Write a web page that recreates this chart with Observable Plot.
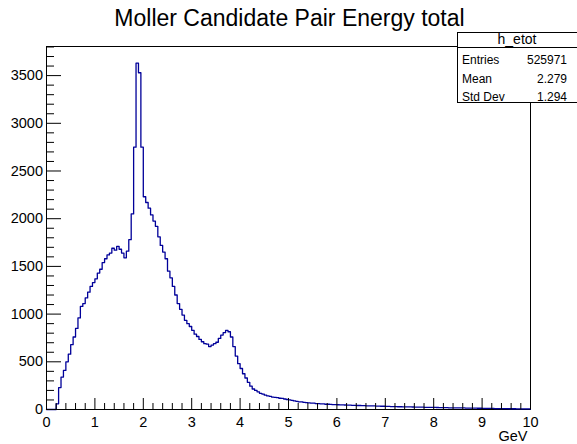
<!DOCTYPE html>
<html><head><meta charset="utf-8">
<script src="https://cdn.jsdelivr.net/npm/d3@7"></script>
<script src="https://cdn.jsdelivr.net/npm/@observablehq/plot@0.6"></script>
<style>html,body{margin:0;padding:0;background:#fff;} svg{display:block}</style>
</head><body><div id="chart"></div>
<script>
const title = "Moller Candidate Pair Energy total";
const xUnit = "GeV";
const histName = "h_etot";
const statLabels = ["Entries", "Mean", "Std Dev"];
const statValues = ["525971", "2.279", "1.294"];
const binWidth = 0.05;
const xMin = 0, xMax = 10;
const yMax = 3805;
// counts per 0.05 GeV bin (10 bins per row = 0.5 GeV)
const counts = [
  0, 0, 0, 0, 60, 230, 340, 410, 500, 580,
  680, 760, 850, 960, 1080, 1110, 1170, 1230, 1290, 1330,
  1370, 1430, 1470, 1540, 1580, 1620, 1640, 1690, 1670, 1710,
  1680, 1640, 1590, 1660, 1780, 2050, 2750, 3630, 3530, 2750,
  2230, 2170, 2110, 2040, 1975, 1920, 1810, 1720, 1650, 1580,
  1450, 1380, 1290, 1200, 1110, 1050, 990, 935, 900, 870,
  830, 790, 765, 735, 710, 690, 685, 660, 675, 690,
  705, 745, 780, 805, 830, 815, 760, 660, 560, 480,
  430, 375, 330, 285, 245, 215, 200, 185, 170, 162,
  150, 142, 138, 130, 128, 124, 118, 116, 110, 105,
  100, 96, 90, 86, 80, 79, 74, 72, 70, 67,
  66, 62, 61, 59, 58, 55, 55, 53, 51, 51,
  50, 48, 48, 47, 45, 45, 44, 44, 42, 42,
  41, 40, 38, 38, 37, 37, 36, 35, 34, 34,
  33, 32, 31, 31, 30, 29, 29, 28, 28, 27,
  27, 26, 25, 25, 25, 24, 23, 23, 22, 22,
  22, 21, 20, 20, 20, 19, 18, 18, 18, 17,
  17, 16, 16, 15, 15, 14, 14, 14, 13, 13,
  12, 12, 12, 11, 11, 10, 10, 10, 9, 9,
  9, 8, 8, 8, 7, 7, 7, 6, 6, 6
];
const xTicks = [0, 1, 2, 3, 4, 5, 6, 7, 8, 9, 10];
const xMinorStep = 0.2;
const yTicks = [0, 500, 1000, 1500, 2000, 2500, 3000, 3500];
const yMinorStep = 100;

const bins = counts.map((c, i) => ({x: xMin + i * binWidth, y: c}));
bins.push({x: xMax, y: counts[counts.length - 1]});

const xMinor = d3.range(0, 50.5).map(i => +(i * xMinorStep).toFixed(2)).filter(v => v <= xMax && Math.abs(v - Math.round(v)) > 1e-6);
const yMinor = d3.range(1, 39).map(i => i * yMinorStep).filter(v => v % 500 !== 0);

const font = "'Liberation Sans', Arial, Helvetica, sans-serif";
const plot = Plot.plot({
  width: 577, height: 444,
  marginLeft: 46, marginRight: 47, marginTop: 46, marginBottom: 35,
  style: {fontFamily: font, fontSize: "14.5px", background: "#fff", color: "#000", overflow: "visible"},
  x: {domain: [xMin, xMax]},
  y: {domain: [0, yMax]},
  marks: [
    Plot.frame({stroke: "#000"}),
    Plot.line(bins, {x: "x", y: "y", curve: "step-after", stroke: "#000099", strokeWidth: 1.3}),
    Plot.axisX({ticks: xTicks, tickSize: 0, tickPadding: 7.5, tickFormat: d => String(d), label: null, fontSize: 14.5}),
    Plot.axisX({ticks: xTicks, tickSize: 11, dy: -11, fill: "none", label: null}),
    Plot.axisX({ticks: xMinor, tickSize: 6, dy: -6, fill: "none", label: null}),
    Plot.axisY({ticks: yTicks, tickSize: 0, tickPadding: 3.5, tickFormat: d => String(d), label: null, fontSize: 14.5}),
    Plot.axisY({ticks: yTicks, tickSize: 15, dx: 15, fill: "none", label: null}),
    Plot.axisY({ticks: yMinor, tickSize: 8, dx: 8, fill: "none", label: null}),
    Plot.text([title], {frameAnchor: "top", dy: -21, dx: 1, lineAnchor: "bottom", fontSize: 23, fill: "#000"}),
    Plot.text([xUnit], {frameAnchor: "bottom-right", textAnchor: "end", lineAnchor: "bottom", dx: -3, dy: 31, fontSize: 14.5, fill: "#000"})
  ]
});

// ROOT-style statistics box
const svg = d3.select(plot);
const g = svg.append("g").attr("font-family", font).attr("fill", "#000").attr("text-anchor", "start");
g.append("rect").attr("x", 457.5).attr("y", 32.5).attr("width", 125).attr("height", 70).attr("fill", "#fff").attr("stroke", "#000");
g.append("line").attr("x1", 457.5).attr("x2", 580).attr("y1", 47.5).attr("y2", 47.5).attr("stroke", "#000");
g.append("text").attr("x", 517).attr("y", 43.5).attr("text-anchor", "middle").attr("font-size", 14).text(histName);
const rowY = [64, 83, 101];
statLabels.forEach((l, i) => {
  g.append("text").attr("x", 462).attr("y", rowY[i]).attr("text-anchor", "start").attr("font-size", 12).text(l);
  g.append("text").attr("x", 567).attr("y", rowY[i]).attr("text-anchor", "end").attr("font-size", 12).text(statValues[i]);
});

document.getElementById("chart").appendChild(plot);
</script>
</body></html>
